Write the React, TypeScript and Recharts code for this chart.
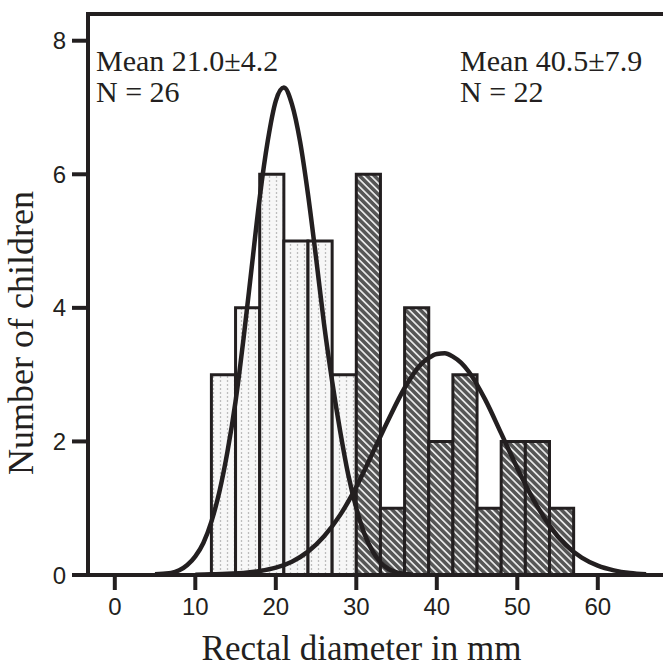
import { ComposedChart, Customized, Label, Line, ReferenceArea, ReferenceLine, XAxis, YAxis } from "recharts";

// histogram bins (3 mm wide), left edges in mm
const binStarts = [12, 15, 18, 21, 24, 27, 30, 33, 36, 39, 42, 45, 48, 51, 54];
// group 1 (light, dotted) and group 2 (dark, hatched) counts per bin
const lightCounts = [3, 4, 6, 5, 5, 3, 0, 0, 0, 0, 0, 0, 0, 0, 0];
const darkCounts = [0, 0, 0, 0, 0, 0, 6, 1, 4, 2, 3, 1, 2, 2, 1];

// fitted curves
const lightFitX = [5, 6, 7, 8, 9, 10, 11, 12, 13, 14, 15, 16, 17, 18, 19, 20, 21, 22, 23, 24, 25, 26, 27, 28, 29, 30, 31, 32, 33, 34, 35, 36, 37];
const lightFitY = [0.01, 0.02, 0.03, 0.07, 0.15, 0.28, 0.48, 0.8, 1.25, 1.85, 2.6, 3.55, 4.6, 5.65, 6.5, 7.1, 7.3, 7.05, 6.5, 5.7, 4.75, 3.75, 2.9, 2.15, 1.5, 1.0, 0.62, 0.36, 0.19, 0.09, 0.04, 0.015, 0.005];
const darkFitX = [10, 12, 14, 16, 18, 20, 22, 24, 26, 28, 30, 32, 34, 36, 38, 39, 40, 41, 42, 43, 44, 46, 48, 50, 52, 54, 56, 58, 60, 62, 64, 66];
const darkFitY = [0.005, 0.01, 0.02, 0.03, 0.06, 0.11, 0.2, 0.35, 0.58, 0.9, 1.32, 1.82, 2.33, 2.8, 3.15, 3.25, 3.31, 3.32, 3.27, 3.18, 3.04, 2.63, 2.12, 1.6, 1.13, 0.74, 0.45, 0.26, 0.14, 0.07, 0.03, 0.01];

const xTicks = [0, 10, 20, 30, 40, 50, 60];
const yTicks = [0, 2, 4, 6, 8];

const BIN = 3;
const X_MIN = -3.33;
const X_MAX = 68.1;
const Y_MAX = 8.4;

const INK = "#231f20";
const SANS = "'Liberation Sans', Arial, sans-serif";
const SERIF = "'Liberation Serif', 'Times New Roman', serif";

type Row = { x: number; lightFit?: number; darkFit?: number };

function buildRows(): Row[] {
  const map = new Map<number, Row>();
  const get = (x: number) => {
    if (!map.has(x)) map.set(x, { x });
    return map.get(x)!;
  };
  lightFitX.forEach((x, i) => (get(x).lightFit = lightFitY[i]));
  darkFitX.forEach((x, i) => (get(x).darkFit = darkFitY[i]));
  return [...map.values()].sort((a, b) => a.x - b.x);
}

const rows = buildRows();

function Notes() {
  const st = { fontFamily: SERIF, fontSize: 30, fill: INK };
  return (
    <g>
      <text x={96} y={71} {...st}>Mean 21.0±4.2</text>
      <text x={96} y={101.5} {...st}>N = 26</text>
      <text x={460} y={71} {...st}>Mean 40.5±7.9</text>
      <text x={460} y={101.5} {...st}>N = 22</text>
    </g>
  );
}

function binRect(start: number, count: number, fill: string) {
  if (!count) return null;
  return (
    <ReferenceArea
      key={`${fill}-${start}`}
      x1={start}
      x2={start + BIN}
      y1={0}
      y2={count}
      fill={fill}
      fillOpacity={1}
      stroke={INK}
      strokeWidth={3}
      ifOverflow="visible"
    />
  );
}

export default function App() {
  return (
    <div style={{ position: "absolute", left: 0, top: 0, background: "#fff" }}>
      <ComposedChart width={663} height={667} data={rows} margin={{ top: 14, right: 0, bottom: 32, left: 28 }}>
        <defs>
          <pattern id="dots" width="7" height="4" patternUnits="userSpaceOnUse">
            <rect width="7" height="4" fill="#f7f7f7" />
            <line x1="3.5" y1="0" x2="3.5" y2="2" stroke="#bdbdbd" strokeWidth="1.3" />
          </pattern>
          <pattern id="hatch" width="5.2" height="5.2" patternUnits="userSpaceOnUse" patternTransform="rotate(-45)">
            <rect width="5.2" height="5.2" fill="#565656" />
            <line x1="2.6" y1="0" x2="2.6" y2="5.2" stroke="#ffffff" strokeWidth="1.5" />
          </pattern>
        </defs>
        <XAxis
          dataKey="x"
          type="number"
          domain={[X_MIN, X_MAX]}
          allowDataOverflow
          ticks={xTicks}
          height={60}
          tickSize={15}
          tickMargin={8}
          axisLine={{ stroke: INK, strokeWidth: 4 }}
          tickLine={{ stroke: INK, strokeWidth: 4 }}
          tick={{ fontSize: 24, fill: INK, fontFamily: SANS }}
        >
          <Label
            content={() => (
              <text x={361.5} y={660} textAnchor="middle" fontFamily={SERIF} fontSize={35} fill={INK}>
                Rectal diameter in mm
              </text>
            )}
          />
        </XAxis>
        <YAxis
          type="number"
          domain={[0, Y_MAX]}
          allowDataOverflow
          ticks={yTicks}
          width={60}
          tickSize={16}
          tickMargin={6}
          axisLine={{ stroke: INK, strokeWidth: 4, strokeLinecap: "square" }}
          tickLine={{ stroke: INK, strokeWidth: 4 }}
          tick={{ fontSize: 24, fill: INK, fontFamily: SANS }}
        >
          <Label
            content={() => (
              <text x={33} y={333} transform="rotate(-90 33 333)" textAnchor="middle" fontFamily={SERIF} fontSize={36} fill={INK}>
                Number of children
              </text>
            )}
          />
        </YAxis>
        <ReferenceLine y={Y_MAX} stroke={INK} strokeWidth={4} strokeLinecap="square" ifOverflow="visible" />
        {binStarts.map((s, i) => binRect(s, lightCounts[i], "url(#dots)"))}
        {binStarts.map((s, i) => binRect(s, darkCounts[i], "url(#hatch)"))}
        <Line dataKey="lightFit" type="monotone" stroke={INK} strokeWidth={4.5} dot={false} activeDot={false} connectNulls isAnimationActive={false} />
        <Line dataKey="darkFit" type="monotone" stroke={INK} strokeWidth={4.5} dot={false} activeDot={false} connectNulls isAnimationActive={false} />
        <Customized component={Notes} />
      </ComposedChart>
    </div>
  );
}
